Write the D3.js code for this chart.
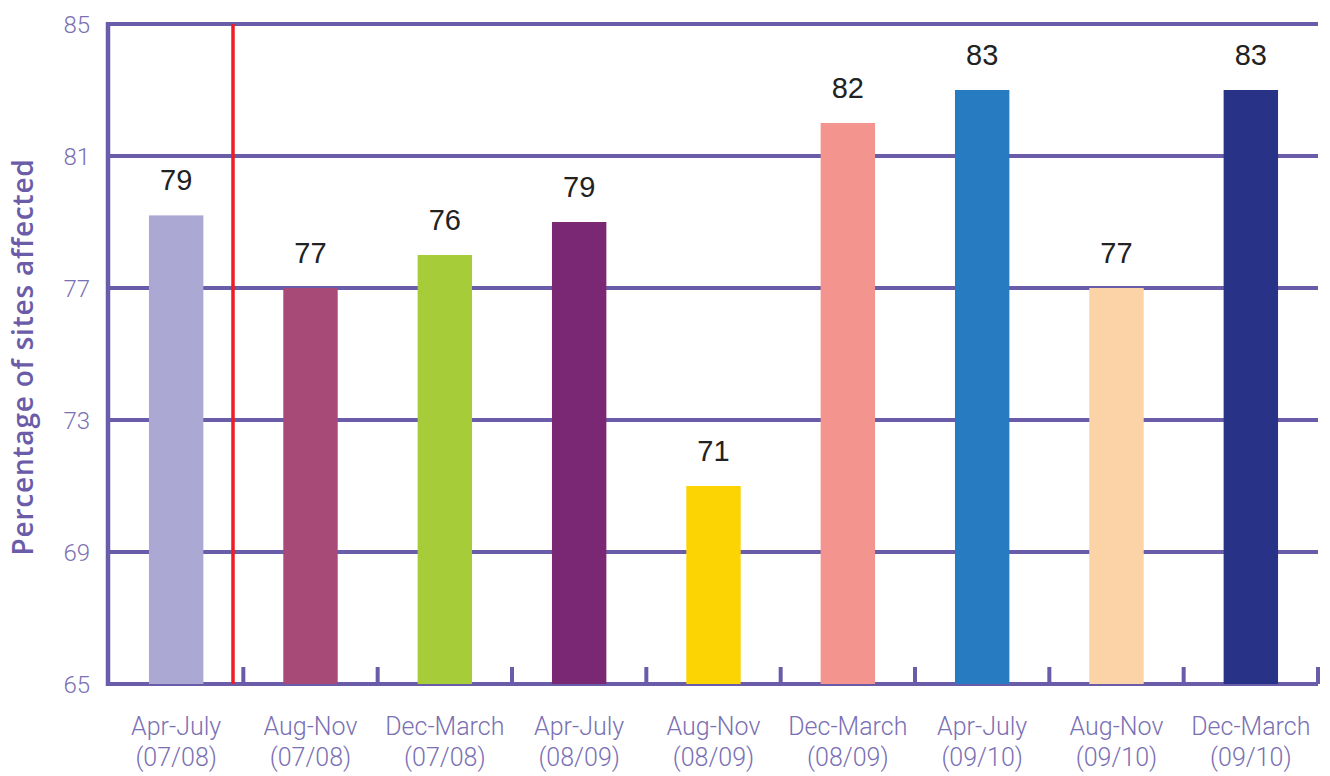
<!DOCTYPE html>
<html>
<head>
<meta charset="utf-8">
<script src="https://cdn.jsdelivr.net/npm/d3@7"></script>
<style>
  body { margin: 0; background: #fff; }
  svg { display: block; }
</style>
</head>
<body>
<script>
// Periods on the x axis (two lines each)
var periods = ["Apr-July", "Aug-Nov", "Dec-March", "Apr-July", "Aug-Nov", "Dec-March", "Apr-July", "Aug-Nov", "Dec-March"];
var years = ["(07/08)", "(07/08)", "(07/08)", "(08/09)", "(08/09)", "(08/09)", "(09/10)", "(09/10)", "(09/10)"];

// Bar heights as drawn, and the labels printed above them
var values = [79.2, 77, 78, 79, 71, 82, 83, 77, 83];
var valueLabels = ["79", "77", "76", "79", "71", "82", "83", "77", "83"];

var barColors = ["#aba8d3", "#a84a78", "#a6cd39", "#7b2874", "#fcd303", "#f3948e", "#277bc0", "#fcd3a6", "#283387"];

var yTicks = [65, 69, 73, 77, 81, 85];

var width = 1330, height = 776;
var margin = {left: 108, right: 12, top: 24, bottom: 92};
var purple = "#6a5ca8";
var labelPurple = "#7a70b4";
var lightFont = "Roboto, 'Open Sans', sans-serif";

var svg = d3.select("body").append("svg")
    .attr("width", width)
    .attr("height", height);

var x = d3.scaleBand()
    .domain(d3.range(values.length))
    .range([109, 1318])
    .paddingInner(0.595)
    .paddingOuter(0.2975);

var y = d3.scaleLinear()
    .domain([65, 85])
    .range([height - margin.bottom, margin.top]);

// Gridlines (including top and baseline)
svg.append("g")
    .selectAll("line")
    .data(yTicks)
    .enter().append("line")
    .attr("x1", margin.left)
    .attr("x2", width - margin.right)
    .attr("y1", function(d) { return y(d); })
    .attr("y2", function(d) { return y(d); })
    .attr("stroke", purple)
    .attr("stroke-width", 4);

// Y tick labels
svg.append("g")
    .selectAll("text")
    .data(yTicks)
    .enter().append("text")
    .attr("x", 90)
    .attr("y", function(d) { return y(d); })
    .attr("dy", "0.36em")
    .attr("text-anchor", "end")
    .attr("fill", labelPurple)
    .style("font-family", lightFont)
    .style("font-size", "24px")
    .style("font-weight", 300)
    .text(function(d) { return d; });

// Bars
svg.append("g")
    .selectAll("rect")
    .data(values)
    .enter().append("rect")
    .attr("x", function(d, i) { return x(i); })
    .attr("width", x.bandwidth())
    .attr("y", function(d) { return y(d); })
    .attr("height", function(d) { return y(65) - y(d); })
    .attr("fill", function(d, i) { return barColors[i]; });

// Left axis line
svg.append("line")
    .attr("x1", margin.left).attr("x2", margin.left)
    .attr("y1", y(85) - 2).attr("y2", y(65) + 2)
    .attr("stroke", purple)
    .attr("stroke-width", 4.5);

// Category boundary ticks on the baseline
var bounds = d3.range(1, values.length + 1).map(function(i) {
    return x(i - 1) + x.bandwidth() / 2 + x.step() / 2;
});
svg.append("g")
    .selectAll("line")
    .data(bounds)
    .enter().append("line")
    .attr("x1", function(d) { return d; })
    .attr("x2", function(d) { return d; })
    .attr("y1", y(65))
    .attr("y2", y(65) - 17)
    .attr("stroke", purple)
    .attr("stroke-width", 4);

// Red separator line
svg.append("line")
    .attr("x1", 233).attr("x2", 233)
    .attr("y1", y(85)).attr("y2", y(65))
    .attr("stroke", "#ee1c25")
    .attr("stroke-width", 3.5);

// Value labels
svg.append("g")
    .selectAll("text")
    .data(values)
    .enter().append("text")
    .attr("x", function(d, i) { return x(i) + x.bandwidth() / 2; })
    .attr("y", function(d) { return y(d) - 25; })
    .attr("text-anchor", "middle")
    .attr("fill", "#222")
    .style("font-family", "'Liberation Sans', Arial, sans-serif")
    .style("font-size", "29px")
    .text(function(d, i) { return valueLabels[i]; });

// X labels
var xl = svg.append("g")
    .selectAll("text")
    .data(periods)
    .enter().append("text")
    .attr("x", function(d, i) { return x(i) + x.bandwidth() / 2; })
    .attr("y", 735)
    .attr("text-anchor", "middle")
    .attr("fill", labelPurple)
    .style("font-family", lightFont)
    .style("font-size", "25px")
    .style("font-weight", 300);
xl.append("tspan").text(function(d) { return d; });
xl.append("tspan")
    .attr("x", function(d, i) { return x(i) + x.bandwidth() / 2; })
    .attr("dy", 31)
    .text(function(d, i) { return years[i]; });

// Y axis title
svg.append("text")
    .attr("transform", "translate(33,357) rotate(-90)")
    .attr("text-anchor", "middle")
    .attr("fill", purple)
    .style("font-family", "'Open Sans', sans-serif")
    .style("font-size", "28px")
    .style("font-weight", 600)
    .style("letter-spacing", "0.8px")
    .text("Percentage of sites affected");
</script>
</body>
</html>
